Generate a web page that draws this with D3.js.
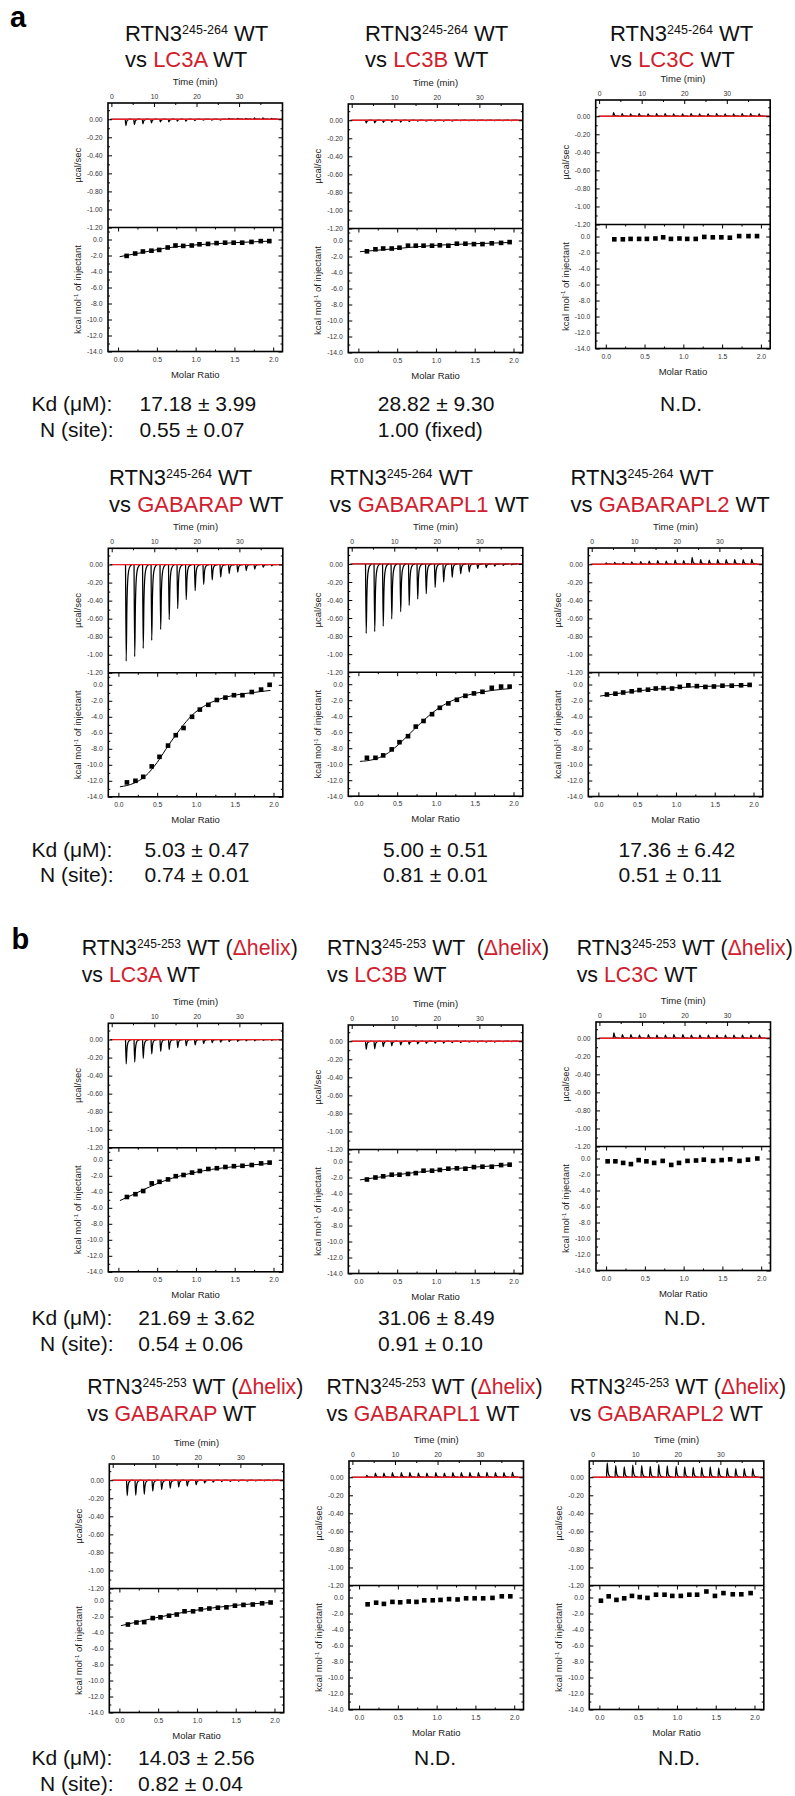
<!DOCTYPE html>
<html>
<head>
<meta charset="UTF-8">
<title>ITC RTN3 vs ATG8 proteins</title>
<script src="https://cdnjs.cloudflare.com/ajax/libs/d3/7.8.5/d3.min.js"></script>
<style>
  body { margin: 0; background: #fff; }
  text { font-family: "Liberation Sans", Arial, sans-serif; }
</style>
</head>
<body>
<script>
// ---------------- data ----------------
var partners = ["LC3A", "LC3B", "LC3C", "GABARAP", "GABARAPL1", "GABARAPL2"];

// injection times (min) of the raw thermograms
var injTime = [3.3, 5.3, 7.3, 9.3, 11.4, 13.4, 15.4, 17.4, 19.5, 21.5, 23.5, 25.5, 27.5, 29.5, 31.5, 33.5, 35.5, 37.5];

// molar ratios of the integrated heats
var ratio18 = [0.11, 0.22, 0.32, 0.43, 0.53, 0.64, 0.74, 0.84, 0.95, 1.05, 1.16, 1.27, 1.38, 1.49, 1.60, 1.72, 1.84, 1.95];
var ratio19 = [0.02, 0.12, 0.22, 0.32, 0.42, 0.52, 0.62, 0.73, 0.84, 0.94, 1.05, 1.16, 1.26, 1.38, 1.49, 1.60, 1.72, 1.83, 1.95];

// tick values
var timeTicks = [0, 10, 20, 30], timeMinor = [5, 15, 25, 35];
var powerTicks = [0, -0.2, -0.4, -0.6, -0.8, -1.0, -1.2];
var powerMinor = [0.1, -0.1, -0.3, -0.5, -0.7, -0.9, -1.1];
var heatTicks = [0, -2, -4, -6, -8, -10, -12, -14];
var heatMinor = [1, -1, -3, -5, -7, -9, -11, -13];
var ratioTicks = [0, 0.5, 1.0, 1.5, 2.0], ratioMinor = [0.25, 0.75, 1.25, 1.75];

// ---- a: RTN3 245-264 ----
// peak heights of the raw injections (ucal/sec)
var peaksA = [
  [-0.07, -0.06, -0.05, -0.04, -0.03, -0.03, -0.02, -0.02, -0.015, -0.01, -0.01, -0.01, 0.01, 0.01, 0.01, 0.015, 0.015, 0.01],
  [-0.03, -0.03, -0.025, -0.02, -0.02, -0.015, -0.01, -0.01, -0.01, -0.01, -0.01, -0.005, -0.005, -0.005, -0.005, -0.005, -0.005, -0.005],
  [0.04, 0.03, 0.025, 0.03, 0.025, 0.03, 0.03, 0.025, 0.025, 0.03, 0.025, 0.025, 0.03, 0.025, 0.025, 0.03, 0.03, 0.025],
  [-1.07, -1.02, -0.93, -0.84, -0.72, -0.61, -0.49, -0.39, -0.29, -0.22, -0.17, -0.14, -0.10, -0.085, -0.067, -0.05, -0.03, -0.015],
  [-0.77, -0.75, -0.69, -0.61, -0.53, -0.46, -0.39, -0.33, -0.26, -0.20, -0.15, -0.11, -0.09, -0.05, -0.04, -0.025, -0.015, -0.01],
  [0.015, 0.02, 0.02, 0.025, 0.03, 0.035, 0.04, 0.035, 0.045, 0.04, 0.075, 0.05, 0.045, 0.05, 0.05, 0.05, 0.05, 0.055]
];
// integrated heats (kcal/mol of injectant)
var heatA = [
  [-2.05, -1.75, -1.5, -1.4, -1.3, -1.0, -0.75, -0.8, -0.75, -0.6, -0.55, -0.45, -0.4, -0.4, -0.4, -0.3, -0.2, -0.2],
  [-1.35, -1.1, -1.0, -1.0, -0.9, -0.65, -0.65, -0.65, -0.65, -0.6, -0.65, -0.4, -0.4, -0.45, -0.45, -0.35, -0.3, -0.2],
  [-0.35, -0.35, -0.3, -0.3, -0.3, -0.25, -0.1, -0.3, -0.25, -0.3, -0.3, -0.05, -0.1, -0.1, -0.15, 0.05, 0.05, 0.05],
  [-12.2, -12.0, -11.5, -10.2, -9.0, -7.6, -6.3, -5.4, -4.0, -3.1, -2.5, -1.9, -1.6, -1.3, -1.3, -0.9, -0.6, 0.0],
  [-9.2, -9.2, -8.9, -8.15, -7.25, -6.5, -5.3, -4.6, -3.75, -2.95, -2.4, -1.95, -1.45, -1.15, -0.95, -0.45, -0.3, -0.3],
  [-1.25, -1.15, -1.0, -0.85, -0.7, -0.65, -0.5, -0.45, -0.5, -0.3, -0.1, -0.2, -0.3, -0.25, -0.15, -0.15, -0.1, -0.05]
];
// fitted curves [molar ratio, heat]
var fitA = [
  [[0.02, -2.15], [0.3, -1.65], [0.6, -1.1], [0.9, -0.75], [1.2, -0.55], [1.5, -0.4], [1.96, -0.2]],
  [[0.02, -1.4], [0.5, -1.0], [1.0, -0.6], [1.5, -0.4], [1.96, -0.25]],
  null,
  [[0.02, -12.75], [0.2, -12.3], [0.35, -11.4], [0.5, -9.7], [0.65, -7.5], [0.8, -5.5], [0.95, -3.8], [1.1, -2.7], [1.3, -1.8], [1.5, -1.3], [1.75, -0.95], [1.96, -0.7]],
  [[0.02, -9.65], [0.2, -9.4], [0.35, -8.8], [0.5, -7.7], [0.65, -6.3], [0.8, -4.9], [0.95, -3.6], [1.1, -2.6], [1.3, -1.7], [1.5, -1.15], [1.75, -0.75], [1.96, -0.55]],
  [[0.02, -1.45], [0.3, -1.05], [0.6, -0.7], [1.0, -0.4], [1.5, -0.2], [1.96, -0.1]]
];
var kdA = ["17.18 ± 3.99", "28.82 ± 9.30", "N.D.", "5.03 ± 0.47", "5.00 ± 0.51", "17.36 ± 6.42"];
var nA = ["0.55 ± 0.07", "1.00 (fixed)", null, "0.74 ± 0.01", "0.81 ± 0.01", "0.51 ± 0.11"];

// ---- b: RTN3 245-253 (delta helix) ----
var peaksB = [
  [-0.27, -0.25, -0.21, -0.16, -0.13, -0.11, -0.09, -0.07, -0.06, -0.045, -0.035, -0.03, -0.022, -0.02, -0.015, -0.015, -0.01, -0.01],
  [-0.09, -0.085, -0.06, -0.05, -0.04, -0.035, -0.03, -0.025, -0.02, -0.02, -0.015, -0.015, -0.01, -0.01, -0.01, -0.01, -0.005, -0.005],
  [0.06, 0.04, 0.04, 0.035, 0.04, 0.035, 0.035, 0.04, 0.04, 0.035, 0.035, 0.035, 0.035, 0.035, 0.035, 0.035, 0.035, 0.035],
  [-0.17, -0.165, -0.155, -0.12, -0.105, -0.09, -0.075, -0.065, -0.05, -0.03, -0.02, -0.015, -0.012, -0.01, -0.01, -0.008, -0.006, -0.005],
  [0.02, 0.045, 0.045, 0.05, 0.05, 0.05, 0.045, 0.045, 0.05, 0.045, 0.05, 0.05, 0.05, 0.05, 0.055, 0.05, 0.05, 0.055],
  [0.16, 0.13, 0.115, 0.135, 0.13, 0.12, 0.14, 0.125, 0.12, 0.115, 0.11, 0.11, 0.115, 0.105, 0.1, 0.095, 0.095, 0.095]
];
var heatB = [
  [-4.65, -4.3, -3.9, -2.95, -2.75, -2.45, -2.05, -1.9, -1.6, -1.4, -1.15, -1.05, -0.9, -0.8, -0.75, -0.65, -0.45, -0.35],
  [-2.25, -2.0, -1.85, -1.65, -1.65, -1.55, -1.45, -1.15, -1.15, -1.05, -0.9, -0.85, -0.9, -0.7, -0.65, -0.65, -0.45, -0.4],
  [-0.35, -0.35, -0.55, -0.7, -0.2, -0.35, -0.55, -0.3, -0.8, -0.55, -0.3, -0.25, -0.15, -0.3, -0.2, -0.1, -0.3, -0.15, 0.0],
  [-3.0, -2.75, -2.7, -2.2, -2.1, -1.9, -1.75, -1.35, -1.35, -1.1, -1.0, -0.9, -0.85, -0.65, -0.55, -0.5, -0.35, -0.25],
  [-0.85, -0.65, -0.8, -0.55, -0.6, -0.5, -0.55, -0.35, -0.35, -0.3, -0.2, -0.25, -0.1, -0.1, -0.1, -0.05, 0.15, 0.15],
  [-0.4, 0.15, -0.3, -0.1, 0.2, 0.05, -0.05, 0.35, 0.35, 0.2, 0.2, 0.35, 0.35, 0.75, 0.2, 0.55, 0.4, 0.4, 0.55]
];
var fitB = [
  [[0.02, -5.1], [0.2, -4.3], [0.4, -3.4], [0.6, -2.6], [0.8, -2.0], [1.0, -1.55], [1.2, -1.2], [1.5, -0.85], [1.96, -0.45]],
  [[0.02, -2.3], [0.5, -1.65], [1.0, -1.1], [1.5, -0.7], [1.96, -0.4]],
  null,
  [[0.02, -3.15], [0.5, -2.1], [1.0, -1.2], [1.5, -0.6], [1.96, -0.25]],
  null,
  null
];
var kdB = ["21.69 ± 3.62", "31.06 ± 8.49", "N.D.", "14.03 ± 2.56", "N.D.", "N.D."];
var nB = ["0.54 ± 0.06", "0.91 ± 0.10", null, "0.82 ± 0.04", null, null];

// ---------------- layout ----------------
var W = 174.5, H1 = 124.5, H = 248.5;
var red = "#d0202e";

// frame position, title start/baseline, value text x per panel
var layoutA = [
  {L: 108,   T: 103,   tx: 125,   ty: 40.7, vx: 139.5},
  {L: 348.3, T: 104,   tx: 365,   ty: 40.7, vx: 377.8},
  {L: 595.7, T: 100,   tx: 610,   ty: 40.7, cx: 681},
  {L: 108.3, T: 548.3, tx: 109,   ty: 485,  vx: 144.5},
  {L: 348.3, T: 547.7, tx: 329.6, ty: 485,  vx: 383},
  {L: 588.3, T: 548,   tx: 570.5, ty: 485,  vx: 618.6}
];
var layoutB = [
  {L: 108.3, T: 1023.3, tx: 81.7,  ty: 955,  vx: 138.3},
  {L: 348.3, T: 1025,   tx: 327,   ty: 955,  vx: 378},
  {L: 596,   T: 1022,   tx: 576.7, ty: 955,  cx: 685},
  {L: 109.3, T: 1464,   tx: 87.3,  ty: 1394, vx: 138},
  {L: 349,   T: 1461,   tx: 326.5, ty: 1394, cx: 435},
  {L: 589.3, T: 1461,   tx: 570,   ty: 1394, cx: 679}
];
var valueRowsA = [{kd: 410.7, n: 436.7}, {kd: 856.7, n: 882.3}];
var valueRowsB = [{kd: 1325, n: 1351}, {kd: 1765, n: 1790.7}];

var svg = d3.select("body").append("svg")
  .attr("width", 795)
  .attr("height", 1796);

// shape of one injection peak in the raw trace: [dt (min), fraction of peak]
var spikeShape = [[-0.05, 0], [0.1, 1], [0.28, 0.42], [0.5, 0.14], [0.85, 0.035], [1.4, 0]];

function styleAxis(g) {
  g.select(".domain").remove();
  g.selectAll(".tick line").attr("stroke", "#000").attr("stroke-width", 1);
  g.selectAll(".tick text").attr("fill", "#333").attr("font-size", 6.8)
    .attr("font-family", "'Liberation Sans', Arial, sans-serif");
}

function drawPanel(lay, peaks, heat, fit, section, idx) {
  var g = svg.append("g").attr("transform", "translate(" + lay.L + "," + lay.T + ")");

  var xt = d3.scaleLinear().domain([-0.8, 40.2]).range([0, W]);
  var yt = d3.scaleLinear().domain([-1.2, 0.18]).range([H1, 0]);
  var xm = d3.scaleLinear().domain([-0.13, 2.12]).range([0, W]);
  var ym = d3.scaleLinear().domain([-14, 1.5]).range([H, H1]);

  var clipId = "clip" + section + idx;
  g.append("clipPath").attr("id", clipId)
    .append("rect").attr("width", W).attr("height", H1);

  // raw thermogram
  var trace = g.append("g").attr("clip-path", "url(#" + clipId + ")");
  var line = d3.line().x(function(d) { return xt(d[0]); }).y(function(d) { return yt(d[1]); });
  trace.append("path")
    .attr("d", line([[-0.3, 0], [40.2, 0]]))
    .attr("stroke", "#000").attr("stroke-width", 1).attr("fill", "none");
  peaks.forEach(function(p, i) {
    var t = injTime[i];
    var pts = spikeShape.map(function(s) { return [t + s[0], p * s[1]]; });
    trace.append("path")
      .attr("d", line.curve(d3.curveMonotoneX)(pts))
      .attr("stroke", "#000").attr("stroke-width", 1.25).attr("fill", "none");
  });
  line.curve(d3.curveLinear);
  trace.append("path")
    .attr("d", line([[0, 0], [40.2, 0]]))
    .attr("stroke", "#ee1c24").attr("stroke-width", 1.3).attr("fill", "none");

  // integrated heats
  var ratios = heat.length === 19 ? ratio19 : ratio18;
  if (fit) {
    var fitLine = d3.line().curve(d3.curveMonotoneX)
      .x(function(d) { return xm(d[0]); }).y(function(d) { return ym(d[1]); });
    g.append("path").attr("d", fitLine(fit))
      .attr("stroke", "#000").attr("stroke-width", 1).attr("fill", "none");
  }
  g.selectAll("rect.pt").data(heat).enter().append("rect")
    .attr("class", "pt")
    .attr("x", function(d, i) { return xm(ratios[i]) - 2.3; })
    .attr("y", function(d) { return ym(d) - 2.3; })
    .attr("width", 4.6).attr("height", 4.6)
    .attr("fill", "#000");

  // axes, ticks pointing inward
  g.append("g").call(d3.axisTop(xt).tickValues(timeTicks).tickSizeInner(-4).tickSizeOuter(0)
    .tickPadding(4).tickFormat(d3.format("d"))).call(styleAxis);
  g.append("g").call(d3.axisTop(xt).tickValues(timeMinor).tickSizeInner(-2).tickSizeOuter(0)
    .tickFormat("")).call(styleAxis);

  g.append("g").call(d3.axisLeft(yt).tickValues(powerTicks).tickSizeInner(-4).tickSizeOuter(0)
    .tickPadding(5.5).tickFormat(function(d) { return d.toFixed(2); })).call(styleAxis);
  g.append("g").call(d3.axisLeft(yt).tickValues(powerMinor).tickSizeInner(-2).tickSizeOuter(0)
    .tickFormat("")).call(styleAxis);
  g.append("g").attr("transform", "translate(" + W + ",0)")
    .call(d3.axisRight(yt).tickValues(powerTicks.slice(0, 6)).tickSizeInner(-4).tickSizeOuter(0).tickFormat("")).call(styleAxis);
  g.append("g").attr("transform", "translate(" + W + ",0)")
    .call(d3.axisRight(yt).tickValues(powerMinor).tickSizeInner(-2).tickSizeOuter(0).tickFormat("")).call(styleAxis);

  g.append("g").call(d3.axisLeft(ym).tickValues(heatTicks).tickSizeInner(-4).tickSizeOuter(0)
    .tickPadding(5.5).tickFormat(function(d) { return d.toFixed(1); })).call(styleAxis);
  g.append("g").call(d3.axisLeft(ym).tickValues(heatMinor).tickSizeInner(-2).tickSizeOuter(0)
    .tickFormat("")).call(styleAxis);
  g.append("g").attr("transform", "translate(" + W + ",0)")
    .call(d3.axisRight(ym).tickValues(heatTicks).tickSizeInner(-4).tickSizeOuter(0).tickFormat("")).call(styleAxis);
  g.append("g").attr("transform", "translate(" + W + ",0)")
    .call(d3.axisRight(ym).tickValues(heatMinor).tickSizeInner(-2).tickSizeOuter(0).tickFormat("")).call(styleAxis);

  g.append("g").attr("transform", "translate(0," + H + ")")
    .call(d3.axisBottom(xm).tickValues(ratioTicks).tickSizeInner(-4).tickSizeOuter(0)
      .tickPadding(5.2).tickFormat(function(d) { return d.toFixed(1); })).call(styleAxis);
  g.append("g").attr("transform", "translate(0," + H + ")")
    .call(d3.axisBottom(xm).tickValues(ratioMinor).tickSizeInner(-2).tickSizeOuter(0).tickFormat("")).call(styleAxis);
  g.append("g").attr("transform", "translate(0," + H1 + ")")
    .call(d3.axisTop(xm).tickValues(ratioTicks).tickSizeInner(-4).tickSizeOuter(0).tickFormat("")).call(styleAxis);
  g.append("g").attr("transform", "translate(0," + H1 + ")")
    .call(d3.axisTop(xm).tickValues(ratioMinor).tickSizeInner(-2).tickSizeOuter(0).tickFormat("")).call(styleAxis);

  // frame
  g.append("rect").attr("width", W).attr("height", H)
    .attr("fill", "none").attr("stroke", "#000").attr("stroke-width", 1.6);
  g.append("line").attr("x1", 0).attr("x2", W).attr("y1", H1).attr("y2", H1)
    .attr("stroke", "#000").attr("stroke-width", 1.6);

  // axis titles
  g.append("text").attr("x", W / 2).attr("y", -18).attr("text-anchor", "middle")
    .attr("font-size", 9.5).attr("fill", "#222").text("Time (min)");
  g.append("text").attr("x", W / 2).attr("y", H + 26).attr("text-anchor", "middle")
    .attr("font-size", 9.5).attr("fill", "#222").text("Molar Ratio");
  g.append("text").attr("transform", "translate(-27," + (H1 / 2) + ") rotate(-90)")
    .attr("text-anchor", "middle").attr("font-size", 9.5).attr("fill", "#222").text("µcal/sec");
  var yl = g.append("text").attr("transform", "translate(-27," + ((H1 + H) / 2) + ") rotate(-90)")
    .attr("text-anchor", "middle").attr("font-size", 9.5).attr("fill", "#222");
  yl.append("tspan").text("kcal mol");
  yl.append("tspan").attr("font-size", 6).attr("dy", -3.5).text("-1");
  yl.append("tspan").attr("dy", 3.5).text(" of injectant");

  // title
  var sup = section === "a" ? "245-264" : "245-253";
  var fs = section === "a" ? 22 : 21.3;
  var t1 = svg.append("text").attr("x", lay.tx).attr("y", lay.ty)
    .attr("font-size", fs).attr("fill", "#111").style("white-space", "pre");
  t1.append("tspan").text("RTN3");
  t1.append("tspan").attr("font-size", section === "a" ? 12.5 : 12).attr("dy", -7).text(sup);
  if (section === "a") {
    t1.append("tspan").attr("dy", 7).text(" WT");
  } else {
    t1.append("tspan").attr("dy", 7).text(idx === 1 ? " WT  (" : " WT (");
    t1.append("tspan").attr("fill", red).text("Δhelix");
    t1.append("tspan").text(")");
  }
  var t2 = svg.append("text").attr("x", lay.tx).attr("y", lay.ty + 26.5)
    .attr("font-size", fs).attr("fill", "#111").style("white-space", "pre");
  t2.append("tspan").text("vs ");
  t2.append("tspan").attr("fill", red).text(partners[idx]);
  t2.append("tspan").text(" WT");
}

function drawValues(lay, kd, n, row) {
  if (kd === "N.D.") {
    svg.append("text").attr("x", lay.cx).attr("y", row.kd).attr("text-anchor", "middle")
      .attr("font-size", 21).attr("fill", "#111").text(kd);
    return;
  }
  svg.append("text").attr("x", lay.vx).attr("y", row.kd)
    .attr("font-size", 21).attr("fill", "#111").text(kd);
  if (n) {
    svg.append("text").attr("x", lay.vx).attr("y", row.n)
      .attr("font-size", 21).attr("fill", "#111").text(n);
  }
}

partners.forEach(function(p, i) {
  drawPanel(layoutA[i], peaksA[i], heatA[i], fitA[i], "a", i);
  drawValues(layoutA[i], kdA[i], nA[i], valueRowsA[Math.floor(i / 3)]);
  drawPanel(layoutB[i], peaksB[i], heatB[i], fitB[i], "b", i);
  drawValues(layoutB[i], kdB[i], nB[i], valueRowsB[Math.floor(i / 3)]);
});

// row labels for Kd / N
valueRowsA.concat(valueRowsB).forEach(function(r) {
  svg.append("text").attr("x", 31.5).attr("y", r.kd).attr("font-size", 21).attr("fill", "#111").text("Kd (μM):");
  svg.append("text").attr("x", 40).attr("y", r.n).attr("font-size", 21).attr("fill", "#111").text("N (site):");
});

// section letters
svg.append("text").attr("x", 10).attr("y", 27).attr("font-size", 29).attr("font-weight", "bold").text("a");
svg.append("text").attr("x", 11.5).attr("y", 949).attr("font-size", 29).attr("font-weight", "bold").text("b");
</script>
</body>
</html>
